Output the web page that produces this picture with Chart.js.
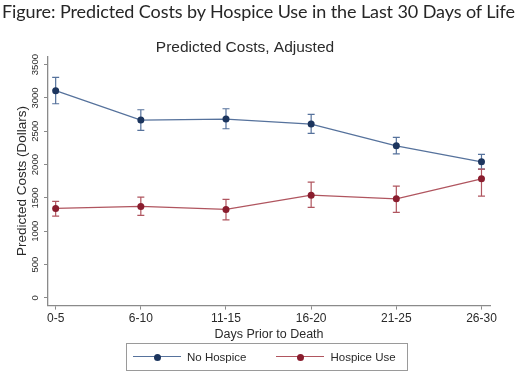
<!DOCTYPE html>
<html lang="en">
  <head>
    <meta charset="UTF-8" />
    <title>Predicted Costs by Hospice Use</title>
    <style>
      * {
        margin: 0;
        padding: 0;
        box-sizing: border-box;
      }
      body {
        background: #ffffff;
        width: 520px;
        height: 373px;
        overflow: hidden;
      }
      #wrap {
        position: relative;
        width: 520px;
        height: 373px;
      }
      #figTitle {
        position: absolute;
        left: 2px;
        top: 0px;
        font-family: Lato, sans-serif;
        font-size: 18px;
        line-height: 22px;
        color: #262626;
        white-space: nowrap;
      }
      #legend {
        position: absolute;
        left: 126px;
        top: 343px;
        width: 282px;
        height: 28px;
        border: 1px solid #9a9a9a;
        display: flex;
        align-items: center;
        padding-left: 6px;
        font-family: "Liberation Sans", Arial, sans-serif;
        font-size: 11.5px;
        color: #2a2a2a;
      }
      .sym {
        position: relative;
        width: 48px;
        height: 10px;
        margin-right: 6px;
      }
      .sym .ln {
        position: absolute;
        left: 0;
        right: 0;
        top: 4px;
        height: 0;
        border-top: 1.3px solid;
      }
      .sym .dot {
        position: absolute;
        left: 20.5px;
        top: 1.5px;
        width: 7px;
        height: 7px;
        border-radius: 50%;
      }
      .item + .item {
        margin-left: 30px;
      }
      .item {
        display: flex;
        align-items: center;
      }
    </style>
    <script src="https://cdn.jsdelivr.net/npm/chart.js@4"></script>
  </head>
  <body>
    <div id="wrap">
      <canvas id="myChart" width="520" height="373"></canvas>
      <div id="figTitle">Figure: Predicted Costs by Hospice Use in the Last 30 Days of Life</div>
      <div id="legend"></div>
    </div>

    <script>
      // data
      const periods = ["0-5", "6-10", "11-15", "16-20", "21-25", "26-30"];
      const noHospice = [3108, 2668, 2683, 2608, 2282, 2042];
      const noHospiceLow = [2913, 2513, 2538, 2468, 2162, 1932];
      const noHospiceHigh = [3308, 2823, 2838, 2754, 2408, 2153];
      const hospiceUse = [1342, 1372, 1327, 1542, 1486, 1787];
      const hospiceUseLow = [1227, 1237, 1171, 1357, 1282, 1527];
      const hospiceUseHigh = [1447, 1512, 1477, 1737, 1677, 1932];
      const yTicks = [0, 500, 1000, 1500, 2000, 2500, 3000, 3500];

      const navy = "#1c355e";
      const navyLine = "#56729c";
      const maroon = "#8a1d2e";
      const maroonLine = "#b0555f";
      const axisGray = "#8a8a8a";
      const textCol = "#2a2a2a";

      // stretch the figure title across the page like the original
      const ft = document.getElementById("figTitle");
      const nChars = ft.textContent.length;
      const w0 = ft.getBoundingClientRect().width;
      ft.style.letterSpacing = (513 - w0) / (nChars - 1) + "px";

      const errorBars = {
        id: "errorBars",
        beforeDatasetsDraw(chart) {
          const ctx = chart.ctx;
          const xs = chart.scales.x;
          const ys = chart.scales.y;
          chart.data.datasets.forEach((ds) => {
            ctx.save();
            ctx.strokeStyle = ds.borderColor;
            ctx.lineWidth = 1.2;
            ds.low.forEach((lo, i) => {
              const px = xs.getPixelForValue(i);
              const y1 = ys.getPixelForValue(lo);
              const y2 = ys.getPixelForValue(ds.high[i]);
              ctx.beginPath();
              ctx.moveTo(px, y1);
              ctx.lineTo(px, y2);
              ctx.moveTo(px - 3.5, y1);
              ctx.lineTo(px + 3.5, y1);
              ctx.moveTo(px - 3.5, y2);
              ctx.lineTo(px + 3.5, y2);
              ctx.stroke();
            });
            ctx.restore();
          });
        },
      };

      const ctx = document.getElementById("myChart").getContext("2d");
      const myChart = new Chart(ctx, {
        type: "line",
        data: {
          datasets: [
            {
              label: "No Hospice",
              data: noHospice.map((v, i) => ({ x: i, y: v })),
              low: noHospiceLow,
              high: noHospiceHigh,
              borderColor: navyLine,
              borderWidth: 1.3,
              pointBackgroundColor: navy,
              pointBorderColor: navy,
              pointRadius: 3.5,
              pointBorderWidth: 0,
              fill: false,
              tension: 0,
            },
            {
              label: "Hospice Use",
              data: hospiceUse.map((v, i) => ({ x: i, y: v })),
              low: hospiceUseLow,
              high: hospiceUseHigh,
              borderColor: maroonLine,
              borderWidth: 1.3,
              pointBackgroundColor: maroon,
              pointBorderColor: maroon,
              pointRadius: 3.5,
              pointBorderWidth: 0,
              fill: false,
              tension: 0,
            },
          ],
        },
        options: {
          responsive: false,
          animation: false,
          layout: { padding: { left: 0, right: 30, top: 38, bottom: 31 } },
          plugins: {
            tooltip: { enabled: false },
            legend: { display: false },
            title: { display: false },
            subtitle: {
              display: true,
              text: "Predicted Costs, Adjusted",
              color: textCol,
              font: { family: "Liberation Sans", size: 15.5 },
              padding: { top: 0, bottom: 0 },
            },
          },
          scales: {
            x: {
              type: "linear",
              min: -0.09,
              max: 5.1,
              grid: {
                display: true,
                drawOnChartArea: false,
                drawTicks: true,
                tickLength: 4,
                color: axisGray,
              },
              border: { display: true, color: axisGray, width: 1.3 },
              ticks: {
                stepSize: 1,
                includeBounds: false,
                autoSkip: false,
                maxRotation: 0,
                padding: 2,
                color: textCol,
                font: { family: "Liberation Sans", size: 12 },
                callback: (v) => periods[v],
              },
              title: {
                display: true,
                text: "Days Prior to Death",
                color: textCol,
                font: { family: "Liberation Sans", size: 12.5 },
                padding: { top: -1, bottom: 0 },
              },
            },
            y: {
              min: -115,
              max: 3620,
              afterFit(scale) {
                scale.width = 48;
              },
              afterBuildTicks(scale) {
                scale.ticks = yTicks.map((v) => ({ value: v }));
              },
              grid: {
                display: true,
                drawOnChartArea: false,
                drawTicks: true,
                tickLength: 4,
                color: axisGray,
              },
              border: { display: true, color: axisGray, width: 1.3 },
              ticks: {
                minRotation: 90,
                maxRotation: 90,
                crossAlign: "center",
                padding: -2,
                color: textCol,
                font: { family: "Liberation Sans", size: 9.5 },
                callback: (v) => String(v),
              },
              title: {
                display: true,
                text: "Predicted Costs (Dollars)",
                color: textCol,
                font: { family: "Liberation Sans", size: 13.5 },
                padding: { top: 14, bottom: 0 },
              },
            },
          },
        },
        plugins: [errorBars],
      });

      // legend built from the datasets
      const legendEl = document.getElementById("legend");
      myChart.data.datasets.forEach((ds) => {
        const item = document.createElement("div");
        item.className = "item";
        item.innerHTML =
          `<span class="sym"><span class="ln" style="border-color:${ds.borderColor}"></span>` +
          `<span class="dot" style="background:${ds.pointBackgroundColor}"></span></span>` +
          `<span>${ds.label}</span>`;
        legendEl.appendChild(item);
      });
    </script>
  </body>
</html>
